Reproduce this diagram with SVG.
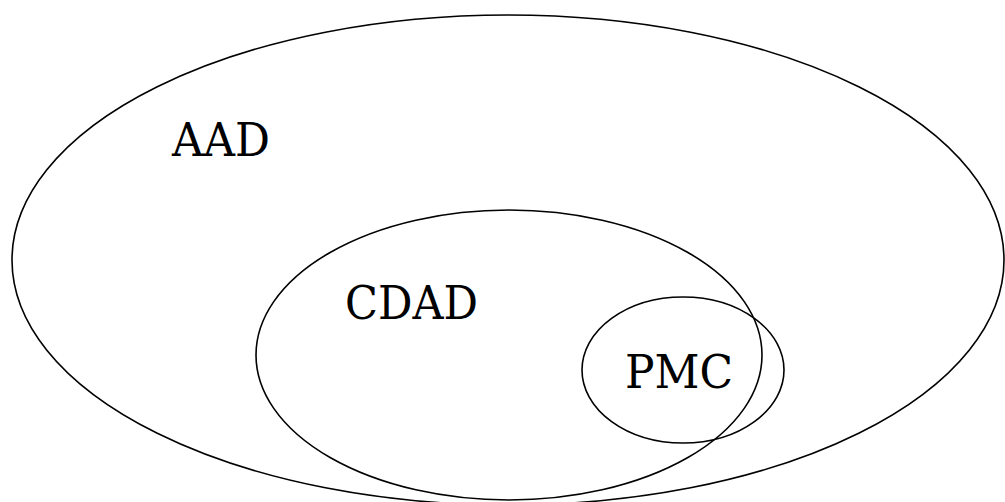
<svg xmlns="http://www.w3.org/2000/svg" width="1005" height="502" viewBox="0 0 1005 502">
<style>
.set{fill:none;stroke:#000;stroke-width:1.6}
.lbl{font-family:"DejaVu Serif",serif;font-size:46px;fill:#000}
</style>
<rect width="1005" height="502" fill="#fff"/>
<g id="AAD">
<ellipse class="set" cx="508" cy="260" rx="496" ry="245"/>
<text class="lbl" x="172" y="156" textLength="98" lengthAdjust="spacingAndGlyphs">AAD</text>
</g>
<g id="CDAD">
<ellipse class="set" cx="509" cy="355" rx="253" ry="145"/>
<text class="lbl" x="345" y="319" textLength="133" lengthAdjust="spacingAndGlyphs">CDAD</text>
</g>
<g id="PMC">
<ellipse class="set" cx="683" cy="370" rx="101" ry="73"/>
<text class="lbl" x="625" y="388" textLength="108" lengthAdjust="spacingAndGlyphs">PMC</text>
</g>
<g id="connectors"></g>
</svg>
